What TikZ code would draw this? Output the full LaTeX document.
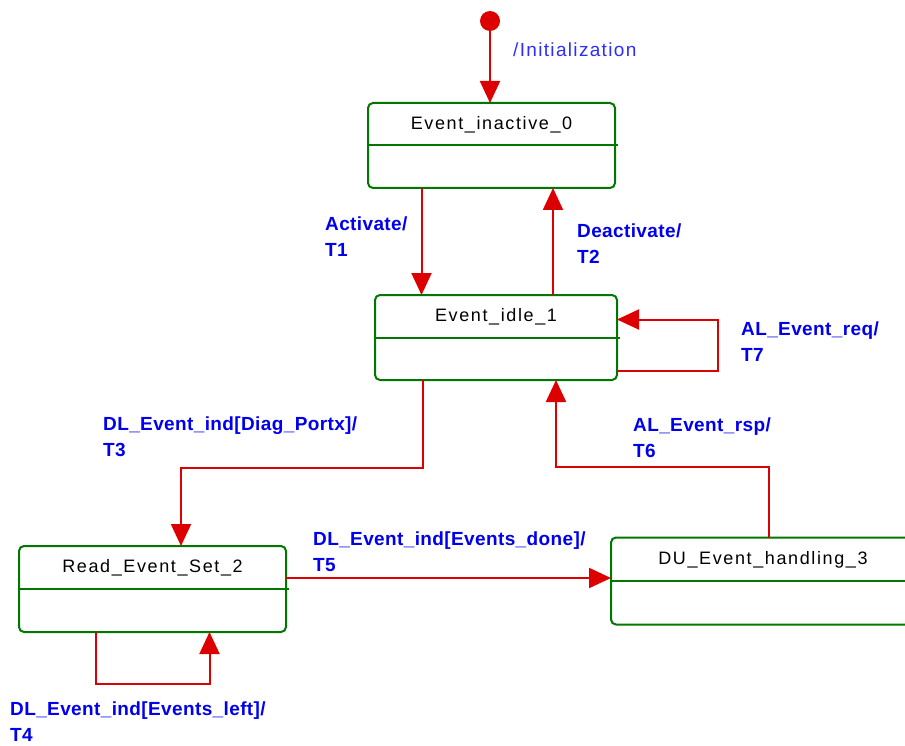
\documentclass[tikz,border=0pt]{standalone}
\usepackage{fontspec}
\setmainfont{Liberation Sans}
\newfontfamily\titlefont[LetterSpace=9]{Liberation Sans}
\newfontfamily\initfont[LetterSpace=7]{Liberation Sans}
\newfontfamily\labelfont[LetterSpace=2]{Liberation Sans}
\usepackage{tikz}
\usetikzlibrary{arrows.meta, positioning, calc}
\usepackage{xcolor}
\definecolor{transred}{RGB}{221,0,0}
\definecolor{stategreen}{RGB}{0,119,0}
\definecolor{labelblue}{RGB}{0,0,238}
\definecolor{initblue}{RGB}{45,45,255}

\tikzset{
	statebox/.style={rectangle, draw=stategreen, line width=2pt, rounded corners=5pt,
		inner sep=0pt, outer sep=0pt},
	statetitle/.style={font=\titlefont\fontsize{18}{22}\selectfont, inner sep=0pt},
	separator/.style={draw=stategreen, line width=2pt},
	trans/.style={draw=transred, line width=2pt, -{Triangle[length=22pt, width=20pt]}},
	translabel/.style={font=\labelfont\bfseries\fontsize{19}{26}\selectfont, text=labelblue,
		align=left, anchor=base west, inner sep=0pt},
	initdot/.style={circle, fill=transred, minimum size=20pt, inner sep=0pt}
}

\begin{document}
\begin{tikzpicture}[x=1pt, y=-1pt]
			\useasboundingbox (0,0) rectangle (905,746);

			% Estados
			\node[statebox, minimum width=247pt, minimum height=85pt] (inactive) at (491.5,145.5) {};
			\node[statebox, minimum width=242pt, minimum height=85pt] (idle) at (496,337.5) {};
			\node[statebox, minimum width=267pt, minimum height=86pt] (read) at (152.5,589) {};
			\node[statebox, minimum width=304pt, minimum height=87pt] (du) at (763,581) {};

			\foreach \s in {inactive, idle, read, du}
				\draw[separator] (\s.west) -- ([xshift=3pt]\s.east);

			\node[statetitle] (inactivetitle) at ([yshift=21pt]inactive.center) {Event\_inactive\_0};
			\node[statetitle] (idletitle) at ([yshift=21pt]idle.center) {Event\_idle\_1};
			\node[statetitle] (readtitle) at ([yshift=21pt]read.center) {Read\_Event\_Set\_2};
			\node[statetitle] (dutitle) at ([yshift=21pt]du.center) {DU\_Event\_handling\_3};

			% Estado inicial
			\node[initdot] (start) at (490,21) {};

			% Transiciones
			\draw[trans] (start) -- (start |- inactive.north);
			\draw[trans] ([xshift=-70pt]inactive.south) coordinate (t1a) -- (t1a |- idle.north);
			\draw[trans] ([xshift=57pt]idle.north) coordinate (t2a) -- (t2a |- inactive.south);
			\draw[trans] ([yshift=-33pt]idle.east) -- ++(101,0) |- ([yshift=18pt]idle.east);
			\draw[trans] ([xshift=-73pt]idle.south) -- ++(0,88) -| ([xshift=28.5pt]read.north);
			\draw[trans] ([xshift=6pt]du.north) -- ++(0,-71) -| ([xshift=60pt]idle.south);
			\draw[trans] ([yshift=11pt]read.east) -- ([yshift=11pt]read.east -| du.west);
			\draw[trans] ([xshift=-57pt]read.south) -- ++(0,52) -| ([xshift=57pt]read.south);

			% Etiquetas
			\node[translabel, font=\initfont\fontsize{19}{26}\selectfont, text=initblue] (initlabel) at (513,57) {/Initialization};
			\node[translabel] (t1) at (325,257) {Activate/\\T1};
			\node[translabel] (t2) at (577,263) {Deactivate/\\T2};
			\node[translabel] (t7) at (741,361) {AL\_Event\_req/\\T7};
			\node[translabel] (t3) at (103,456) {DL\_Event\_ind[Diag\_Portx]/\\T3};
			\node[translabel] (t6) at (633,457) {AL\_Event\_rsp/\\T6};
			\node[translabel] (t5) at (313,571) {DL\_Event\_ind[Events\_done]/\\T5};
			\node[translabel] (t4) at (10,741) {DL\_Event\_ind[Events\_left]/\\T4};
		\end{tikzpicture}
\end{document}
